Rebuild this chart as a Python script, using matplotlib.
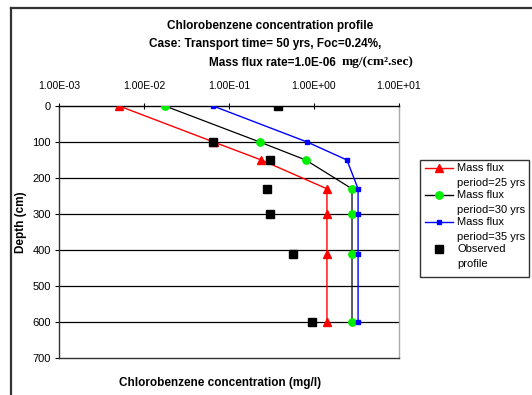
import matplotlib
matplotlib.use("Agg")
import matplotlib.pyplot as plt
from matplotlib.lines import Line2D
from matplotlib.ticker import FixedLocator, FuncFormatter, NullLocator

plt.rcParams['font.family'] = ['Liberation Sans', 'DejaVu Sans']

# depths (cm) shared by every profile
depth = [0, 100, 150, 230, 300, 410, 600]

# concentrations (mg/l)
flux_25 = [0.0051, 0.066, 0.24, 1.42, 1.42, 1.42, 1.42]
flux_30 = [0.0177, 0.23, 0.80, 2.8, 2.8, 2.8, 2.8]
flux_35 = [0.065, 0.83, 2.44, 3.3, 3.3, 3.3, 3.3]
observed = [0.377, 0.065, 0.30, 0.28, 0.30, 0.56, 0.95]

legend_labels = ["Mass flux\nperiod=25 yrs", "Mass flux\nperiod=30 yrs",
                 "Mass flux\nperiod=35 yrs", "Observed\nprofile"]
x_ticks = [1e-3, 1e-2, 1e-1, 1e0, 1e1]
y_ticks = [0, 100, 200, 300, 400, 500, 600, 700]

W, H = 532, 395
fig = plt.figure(figsize=(W / 100, H / 100), dpi=100)

def fx(px):
    return px / W

def fy(py):
    return 1 - py / H

ax = fig.add_axes([fx(59), fy(358), fx(399) - fx(59), fy(106) - fy(358)])

ax.set_xscale('log')
ax.set_xlim(1e-3, 1e1)
ax.set_ylim(700, 0)

for y in y_ticks[1:-1]:
    ax.axhline(y, color='black', lw=0.9, zorder=1)

ax.plot(flux_25, depth, color='red', lw=1, marker='^', ms=5.8,
        mfc='red', mec='red', zorder=3)
ax.plot(flux_30, depth, color='black', lw=0.9, marker='o', ms=5.3,
        mfc='#00ee00', mec='#00ee00', zorder=3)
ax.plot(flux_35, depth, color='blue', lw=1, marker='s', ms=3,
        mfc='blue', mec='blue', zorder=3)
ax.plot(observed, depth, ls='none', marker='s', ms=6,
        mfc='black', mec='black', zorder=4)

ax.xaxis.tick_top()
ax.xaxis.set_major_locator(FixedLocator(x_ticks))
ax.xaxis.set_minor_locator(NullLocator())
ax.xaxis.set_major_formatter(FuncFormatter(lambda v, p: f"{v:.2E}"))
ax.set_yticks(y_ticks)
ax.tick_params(axis='x', direction='inout', length=5, pad=8, labelsize=7.5, width=0.8)
ax.tick_params(axis='y', direction='out', length=3, pad=3, labelsize=8, width=0.8)

ax.spines['top'].set_color('black')
ax.spines['left'].set_color('#333333')
ax.spines['bottom'].set_color('#333333')
ax.spines['right'].set_color('#aaaaaa')
for s in ax.spines.values():
    s.set_linewidth(1)

# titles
fig.text(fx(270), fy(26), "Chlorobenzene concentration profile", ha='center',
         va='center', fontsize=8.5, fontweight='bold')
fig.text(fx(265), fy(44), "Case: Transport time= 50 yrs, Foc=0.24%,", ha='center',
         va='center', fontsize=8.5, fontweight='bold')
fig.text(fx(336), fy(63), "Mass flux rate=1.0E-06", ha='right',
         va='center', fontsize=8.5, fontweight='bold')
fig.text(fx(342), fy(62), "mg/(cm\u00b2.sec)", ha='left', va='center',
         fontsize=9.5, fontweight='bold', family=['Liberation Serif', 'DejaVu Serif'])

fig.text(fx(220), fy(383), "Chlorobenzene concentration (mg/l)", ha='center',
         va='center', fontsize=8.5, fontweight='bold')
fig.text(fx(21), fy(222), "Depth (cm)", ha='center', va='center', rotation=90,
         fontsize=8.5, fontweight='bold')

# outer chart frame (cut at right and bottom)
fig.add_artist(Line2D([fx(10.5), 1], [fy(7.5), fy(7.5)], color='#333333', lw=1.6))
fig.add_artist(Line2D([fx(10.5), fx(10.5)], [fy(7.5), 0], color='#333333', lw=1.6))

# legend, drawn by hand so the marker sits on the first label line
box = plt.Rectangle((fx(420), fy(277)), fx(529) - fx(420), fy(160) - fy(277),
                    transform=fig.transFigure, fill=False, ec='#333333', lw=1)
fig.add_artist(box)
styles = [dict(color='red', marker='^', ms=5.8, mfc='red', mec='red'),
          dict(color='black', marker='o', ms=5.3, mfc='#00ee00', mec='#00ee00'),
          dict(color='blue', marker='s', ms=3, mfc='blue', mec='blue'),
          dict(color='none', marker='s', ms=5.5, mfc='black', mec='black')]
first_rows = [168, 195, 222, 249]
for label, st, yrow in zip(legend_labels, styles, first_rows):
    fig.add_artist(Line2D([fx(425), fx(453)], [fy(yrow), fy(yrow)], lw=1,
                          color=st['color']))
    fig.add_artist(Line2D([fx(439)], [fy(yrow)], ls='none', marker=st['marker'],
                          ms=st['ms'], mfc=st['mfc'], mec=st['mec']))
    top, bottom = label.split("\n")
    fig.text(fx(457), fy(yrow), top, ha='left', va='center', fontsize=8)
    fig.text(fx(457), fy(yrow + 15), bottom, ha='left', va='center', fontsize=8)

fig.savefig("out.png", dpi=100)
